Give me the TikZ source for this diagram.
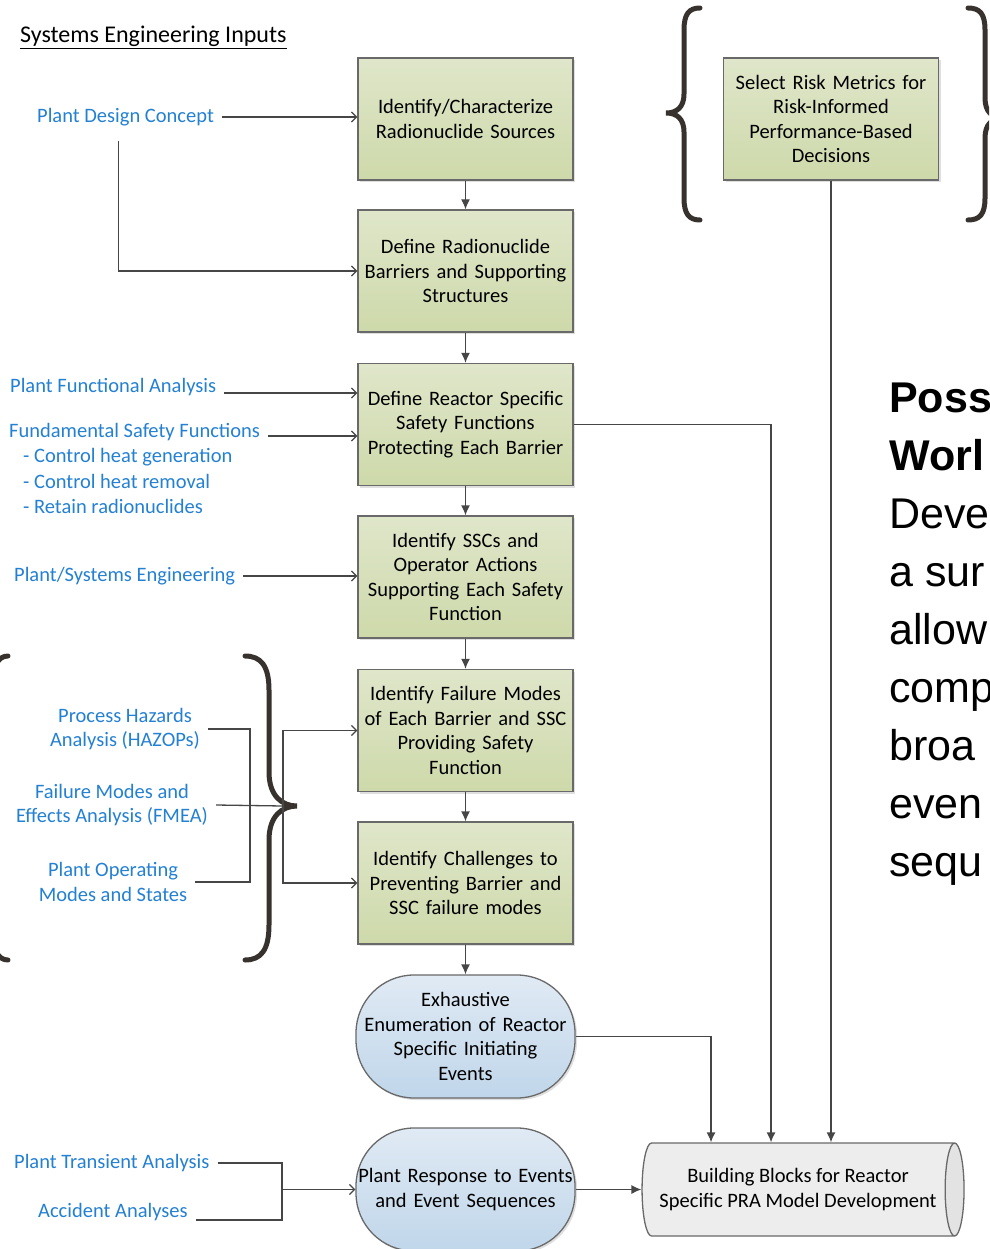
\documentclass[tikz,border=0pt]{standalone}
\usepackage{fontspec}
\usetikzlibrary{arrows.meta,shapes.geometric,shadows}

\newfontfamily\calibri{Carlito}
\newfontfamily\arialfont{Liberation Sans}
\newcommand\boxfont{\calibri\fontsize{20.5}{24.5}\selectfont}
\newcommand\bigfont{\arialfont\fontsize{43}{58}\selectfont}

\definecolor{greentop}{RGB}{223,230,202}
\definecolor{greenbot}{RGB}{206,217,170}
\definecolor{bluetop}{RGB}{224,234,244}
\definecolor{bluebot}{RGB}{192,214,234}
\definecolor{boxline}{RGB}{105,105,105}
\definecolor{lineclr}{RGB}{70,70,70}
\definecolor{inputblue}{RGB}{35,128,210}
\definecolor{braceclr}{RGB}{55,50,45}

\tikzset{
  stepbox/.style={draw=boxline, line width=1.3pt, top color=greentop, bottom color=greenbot,
    minimum width=215pt, minimum height=122pt, text width=210pt, align=center,
    inner sep=0pt, font=\boxfont,
    drop shadow={shadow xshift=2pt, shadow yshift=-2pt, opacity=0.25}},
  eventbox/.style={stepbox, rounded corners=58pt, top color=bluetop, bottom color=bluebot,
    minimum width=219pt, minimum height=123pt, text width=218pt},
  inputtext/.style={text=inputblue, font=\boxfont, inner ysep=2pt, inner xsep=8pt, align=center},
  flow/.style={draw=lineclr, line width=1.3pt, -{Latex[length=10pt,width=9pt]}},
  feed/.style={draw=lineclr, line width=1.3pt, -{Straight Barb[length=5pt,width=10pt]}},
  plain/.style={draw=lineclr, line width=1.3pt},
  brace/.style={draw=braceclr, line width=5pt, line cap=round},
}

\begin{document}
\begin{tikzpicture}[x=1pt,y=-1pt]
\useasboundingbox (0,0) rectangle (989,1249);
\clip (0,0) rectangle (989,1249);

   % main chain of steps
   \node[stepbox] (sources) at (465.5,119) {Identify/Characterize\\Radionuclide Sources};
   \node[stepbox] (barriers) at (465.5,271) {Define Radionuclide\\Barriers and Supporting\\Structures};
   \node[stepbox] (safety) at (465.5,424.5) {Define Reactor Specific\\Safety Functions\\Protecting Each Barrier};
   \node[stepbox] (ssc) at (465.5,577) {Identify SSCs and\\Operator Actions\\Supporting Each Safety\\Function};
   \node[stepbox] (failmodes) at (465.5,730.5) {Identify Failure Modes\\of Each Barrier and SSC\\Providing Safety\\Function};
   \node[stepbox] (challenges) at (465.5,883) {Identify Challenges to\\Preventing Barrier and\\SSC failure modes};
   \node[eventbox] (exhaust) at (465.5,1036.5) {Exhaustive\\Enumeration of Reactor\\Specific Initiating\\Events};
   \node[eventbox] (response) at (465.5,1189.5) {Plant Response to Events\\and Event Sequences};

   \node[stepbox] (metrics) at (831,119) {Select Risk Metrics for\\Risk-Informed\\Performance-Based\\Decisions};

   \node[cylinder, draw=boxline, line width=1.3pt, cylinder uses custom fill,
     cylinder body fill=black!7, cylinder end fill=black!11, aspect=0.45,
     minimum width=93pt, minimum height=322pt, inner sep=0pt, align=center, font=\boxfont]
     (blocks) at (798,1189.5) {Building Blocks for Reactor\\Specific PRA Model Development};

   % inputs
   \node[anchor=west, font=\calibri\fontsize{24}{27}\selectfont, inner sep=0pt] (title) at (20,37) {\underline{Systems Engineering Inputs}};
   \node[inputtext, anchor=west] (pdc) at (29,117) {Plant Design Concept};
   \node[inputtext, anchor=west] (pfa) at (2,387) {Plant Functional Analysis};
   \node[inputtext, anchor=west] (fsf) at (1,432) {Fundamental Safety Functions};
   \node[inputtext, anchor=west] (fsfa) at (15,457) {- Control heat generation};
   \node[inputtext, anchor=west] (fsfb) at (15,481) {- Control heat removal};
   \node[inputtext, anchor=west] (fsfc) at (15,506) {- Retain radionuclides};
   \node[inputtext, anchor=west] (pse) at (6,576) {Plant/Systems Engineering};
   \node[inputtext] (hazop) at (125,729) {Process Hazards\\Analysis (HAZOPs)};
   \node[inputtext] (fmea) at (112,805) {Failure Modes and\\Effects Analysis (FMEA)};
   \node[inputtext] (plantop) at (113,882) {Plant Operating\\Modes and States};
   \node[inputtext, anchor=west] (pta) at (6,1163) {Plant Transient Analysis};
   \node[inputtext, anchor=west] (acc) at (30,1212) {Accident Analyses};

   \coordinate (joinL) at (250,806);
   \coordinate (joinR) at (283,806);
   \coordinate (joinT) at (282,1189.5);

   % side text
   \node[anchor=north west, inner sep=0pt, align=left, font=\bigfont] (note) at (889,383)
     {\bfseries Poss\\\bfseries Worl\\Deve\\a sur\\allow\\comp\\broa\\even\\sequ};

   % braces
   \draw[brace] (700,8) .. controls (689,8) and (684,14) .. (684,30) -- (684,94)
     .. controls (684,107) and (677,113) .. (666,113) .. controls (677,113) and (684,119) .. (684,132)
     -- (684,198) .. controls (684,214) and (689,220) .. (700,220);
   \draw[brace] (968,8) .. controls (980,8) and (985,14) .. (985,30) -- (985,98)
     .. controls (985,112) and (992,118) .. (1004,118) .. controls (992,118) and (985,124) .. (985,138)
     -- (985,198) .. controls (985,214) and (980,220) .. (968,220);
   \draw[brace] (245,656) .. controls (261,656) and (269,666) .. (269,690) -- (269,772)
     .. controls (269,796) and (282,806) .. (297,806) .. controls (282,806) and (269,816) .. (269,840)
     -- (269,925) .. controls (269,950) and (261,960) .. (245,960);
   \draw[brace] (8,656) .. controls (-2,656) and (-8,666) .. (-8,690) -- (-8,925)
     .. controls (-8,950) and (-2,960) .. (8,960);

   % connectors
   \draw[flow] (sources) -- (barriers);
   \draw[flow] (barriers) -- (safety);
   \draw[flow] (safety) -- (ssc);
   \draw[flow] (ssc) -- (failmodes);
   \draw[flow] (failmodes) -- (challenges);
   \draw[flow] (challenges) -- (exhaust);

   \draw[feed] (pdc.east) -- (pdc.east -| sources.west);
   \draw[feed] ([xshift=-7pt,yshift=-13pt]pdc.south) |- (barriers.west);
   \draw[feed] ([yshift=-6pt]pfa.east) -- ([yshift=-6pt]pfa.east -| safety.west);
   \draw[feed] ([yshift=-4pt]fsf.east) -- ([yshift=-4pt]fsf.east -| safety.west);
   \draw[feed] (pse.east) -- (pse.east -| ssc.west);

   \draw[plain] (hazop.east) -| (joinL) |- (plantop.east);
   \draw[plain] (fmea.east) -- (joinR);
   \draw[feed] (joinR) |- (failmodes.west);
   \draw[feed] (joinR) |- (challenges.west);

   \draw[plain] (pta.east) -| (joinT);
   \draw[plain] ([yshift=-8pt]acc.east) -| (joinT);
   \draw[feed] (joinT) -- (response.west);

   \draw[flow] (safety.east) -| ([xshift=-27pt]blocks.north);
   \draw[flow] (metrics.south) -- (metrics.south |- blocks.north);
   \draw[flow] (exhaust.east) -| ([xshift=-87pt]blocks.north);
   \draw[flow] (response.east) -- (blocks.west);

\end{tikzpicture}
\end{document}
